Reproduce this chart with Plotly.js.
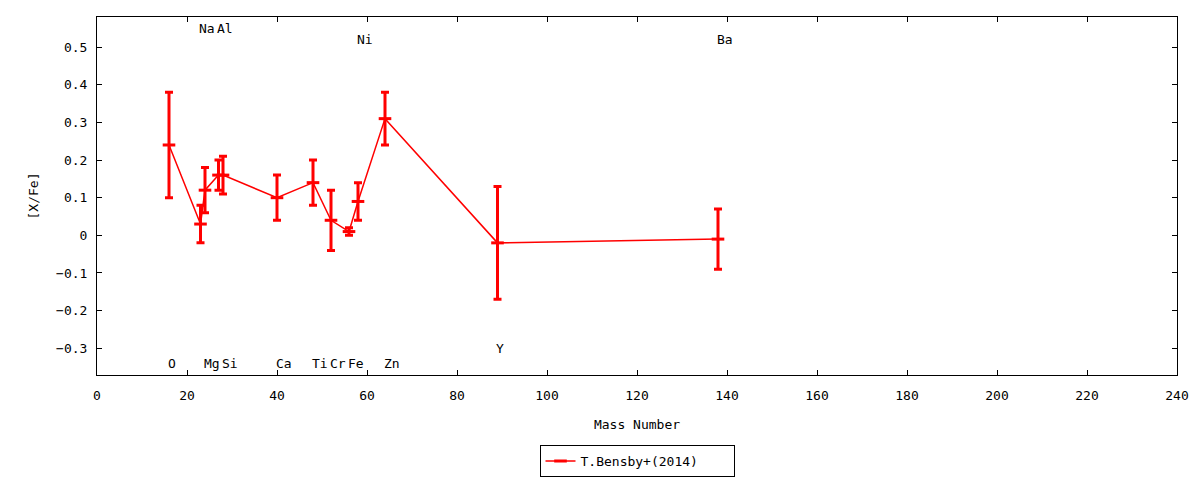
<!DOCTYPE html>
<html>
<head>
<meta charset="utf-8">
<script src="https://cdn.plot.ly/plotly-3.0.1.min.js"></script>
<style>
  body { margin: 0; background: #fff; }
  #plotDiv { width: 1200px; height: 480px; }
</style>
</head>
<body>
<div id="plotDiv"></div>
<script>
  // element abundances, T.Bensby+(2014)
  const elements = ['O', 'Na', 'Mg', 'Al', 'Si', 'Ca', 'Ti', 'Cr', 'Fe', 'Ni', 'Zn', 'Y', 'Ba'];
  const massNumber = [16, 23, 24, 27, 28, 40, 48, 52, 56, 58, 64, 89, 138];
  const xFe = [0.24, 0.03, 0.12, 0.16, 0.16, 0.10, 0.14, 0.04, 0.01, 0.09, 0.31, -0.02, -0.01];
  const xFeErr = [0.14, 0.05, 0.06, 0.04, 0.05, 0.06, 0.06, 0.08, 0.01, 0.05, 0.07, 0.15, 0.08];
  // height at which each element name is written
  const labelY = [-0.34, 0.55, -0.34, 0.55, -0.34, -0.34, -0.34, -0.34, -0.34, 0.52, -0.34, -0.30, 0.52];

  const fontFamily = '"DejaVu Sans Mono", monospace';

  var trace1 = {
    x: massNumber,
    y: xFe,
    name: 'T.Bensby+(2014)',
    type: 'scatter',
    mode: 'lines+markers',
    line: {color: '#ff0000', width: 1.5},
    marker: {symbol: 'line-ew', size: 9, color: '#ff0000',
             line: {color: '#ff0000', width: 3}},
    error_y: {type: 'data', array: xFeErr, visible: true,
              color: '#ff0000', thickness: 3, width: 4},
  };

  var labels = [];
  for (let i = 0 ; i < elements.length ; i++) {
    labels.push({
      x: massNumber[i],
      y: labelY[i],
      text: elements[i],
      showarrow: false,
      xanchor: 'left',
      xshift: -3.5,
      font: {family: fontFamily, size: 13, color: '#000'},
    });
  }

  var axisStyle = {
    showgrid: false,
    zeroline: false,
    showline: true,
    mirror: 'allticks',
    automargin: false,
    linecolor: '#000',
    linewidth: 1,
    ticks: 'inside',
    ticklen: 5,
    tickcolor: '#000',
    tickfont: {family: fontFamily, size: 13, color: '#000'},
  };

  var layout = {
    width: 1200,
    height: 480,
    margin: {l: 97, r: 23, t: 17, b: 105},
    paper_bgcolor: '#fff',
    plot_bgcolor: '#fff',
    font: {family: fontFamily, size: 13, color: '#000'},
    xaxis: Object.assign({}, axisStyle, {
      range: [0, 240],
      dtick: 20,
      ticklabelstandoff: 8,
      title: {text: 'Mass Number', standoff: 18,
              font: {family: fontFamily, size: 13, color: '#000'}},
    }),
    yaxis: Object.assign({}, axisStyle, {
      range: [-0.371, 0.58],
      dtick: 0.1,
      ticklabelstandoff: 6,
      title: {text: '[X/Fe]', standoff: 14,
              font: {family: fontFamily, size: 13, color: '#000'}},
    }),
    showlegend: true,
    legend: {
      orientation: 'h',
      x: 0.5, xanchor: 'center', xref: 'paper',
      y: 0.006, yanchor: 'bottom', yref: 'container',
      entrywidth: 148,
      bordercolor: '#000', borderwidth: 1,
      font: {family: fontFamily, size: 13, color: '#000'},
    },
    annotations: labels,
  };

  Plotly.newPlot('plotDiv', [trace1], layout, {staticPlot: true});
</script>
</body>
</html>
